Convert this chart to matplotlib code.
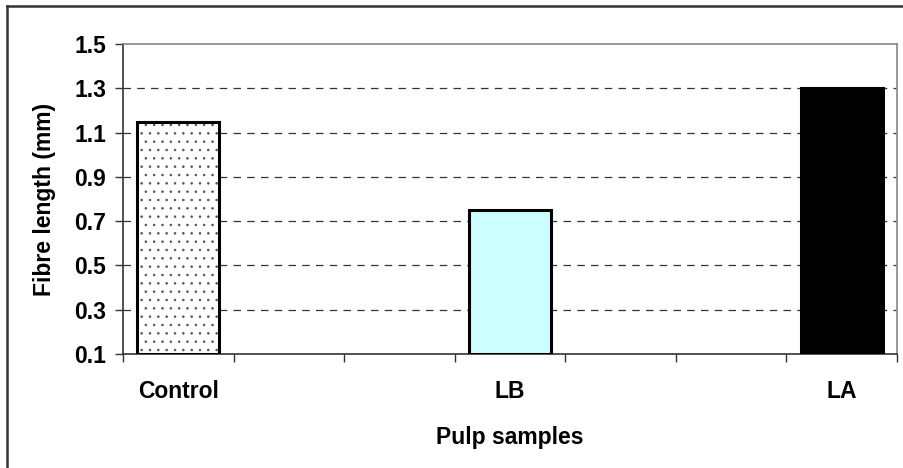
import matplotlib.pyplot as plt
import numpy as np
from matplotlib.lines import Line2D

plt.rcParams['font.family'] = ['Liberation Sans', 'DejaVu Sans']
plt.rcParams['hatch.linewidth'] = 0.6

samples = ['Control', 'LB', 'LA']
fibre_length = [1.15, 0.75, 1.30]
slots = [0, 3, 6]
colors = ['white', '#CCFFFF', 'black']
hatches = ['..', '', '']
y_ticks = [0.1, 0.3, 0.5, 0.7, 0.9, 1.1, 1.3, 1.5]

fig = plt.figure(figsize=(9.04, 4.68), dpi=100)
ax = fig.add_axes([123/904, 1-354/468, (897-123)/904, (354-44)/468])

heights = [v - 0.1 for v in fibre_length]
ax.bar(slots, heights, bottom=0.1, width=0.74, color=colors,
       edgecolor='none', linewidth=0, zorder=3)
for x, h, p in zip(slots, heights, hatches):
    if p:
        ax.bar(x, h, bottom=0.1, width=0.74, color='none',
               edgecolor='#555555', linewidth=0, hatch=p, zorder=3.5)
ax.bar(slots, heights, bottom=0.1, width=0.74, color='none',
       edgecolor='black', linewidth=2.2, zorder=4)

ax.set_xlim(-0.5, 6.5)
ax.set_ylim(0.1, 1.5)
ax.set_yticks(y_ticks)
ax.set_yticklabels(['%.1f' % t for t in y_ticks], fontsize=16.5, fontweight='bold')
ax.set_xticks(slots)
ax.set_xticklabels(samples, fontsize=16.5, fontweight='bold')
ax.set_xticks(np.arange(-0.5, 7, 1), minor=True)
ax.tick_params(axis='x', which='major', length=0, pad=19)
ax.tick_params(axis='x', which='minor', length=6, width=1, color='#333333', direction='out')
ax.tick_params(axis='y', length=6, width=1, color='#333333', pad=6)

for t in y_ticks[1:-1]:
    ax.axhline(t, color='#333333', linewidth=0.9, linestyle=(0, (6, 5)), zorder=1)

ax.spines['top'].set_color('#888888')
ax.spines['right'].set_color('#888888')
ax.spines['left'].set_color('#333333')
ax.spines['bottom'].set_color('#333333')
for s in ax.spines.values():
    s.set_linewidth(1.2)

ax.set_ylabel('Fibre length (mm)', fontsize=16.5, fontweight='bold', labelpad=13)
ax.set_xlabel('Pulp samples', fontsize=16.5, fontweight='bold', labelpad=16)

fig.add_artist(Line2D([7/904, 7/904], [0, 1-6/468], color='#333333', linewidth=1.8))
fig.add_artist(Line2D([7/904, 1], [1-6/468, 1-6/468], color='#333333', linewidth=1.8))

fig.savefig('out.png', dpi=100)
